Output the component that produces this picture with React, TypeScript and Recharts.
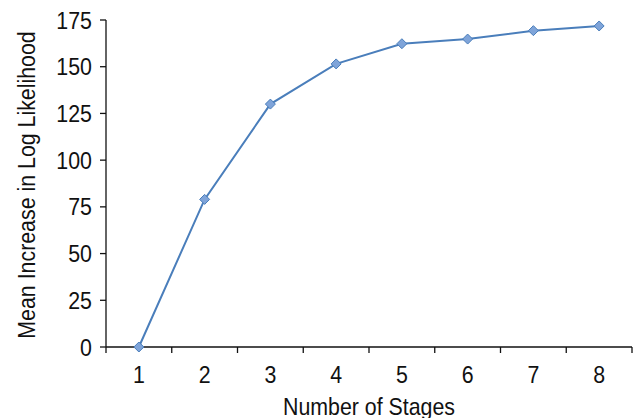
import { LineChart, Line, XAxis, YAxis, Label } from 'recharts'

const stages = [1, 2, 3, 4, 5, 6, 7, 8]
const meanIncrease = [0, 79, 130, 151.5, 162.3, 164.8, 169.3, 171.8]
const yTicks = [0, 25, 50, 75, 100, 125, 150, 175]
// category boundaries, where the small tick marks sit
const xEdges = [0.5, 1, 1.5, 2, 2.5, 3, 3.5, 4, 4.5, 5, 5.5, 6, 6.5, 7, 7.5, 8, 8.5]

const data = stages.map((s, i) => ({ stage: s, value: meanIncrease[i] }))

// no condensed Helvetica here, so squeeze Liberation Sans a bit
const FONT = '"Liberation Sans", Arial, sans-serif'
const SQUEEZE = 0.89
const FS = 24

function NarrowText({ x, y, anchor = 'middle', rotate = 0, children }: any) {
  return (
    <text
      transform={`translate(${x},${y}) rotate(${rotate}) scale(${SQUEEZE},1)`}
      textAnchor={anchor}
      fontSize={FS}
      fontFamily={FONT}
      fill="#111"
    >
      {children}
    </text>
  )
}

function XTick(props: any) {
  const { x, y, payload } = props
  const v = payload.value as number
  if (Number.isInteger(v)) {
    return <NarrowText x={x} y={y + 30}>{v}</NarrowText>
  }
  return <line x1={x} x2={x} y1={y - 6} y2={y} stroke="#111" strokeWidth={1.3} />
}

function YTick(props: any) {
  const { x, y, payload } = props
  return (
    <NarrowText x={x} y={y + 8.5} anchor="end">
      {payload.value}
    </NarrowText>
  )
}

function Diamond(props: any) {
  const { cx, cy } = props
  const r = 5
  return (
    <path
      key={`d-${cx}`}
      d={`M${cx},${cy - r} L${cx + r},${cy} L${cx},${cy + r} L${cx - r},${cy} Z`}
      fill="#7fa4d9"
      stroke="#4a7ebb"
      strokeWidth={1}
    />
  )
}

export default function App() {
  return (
    <div style={{ position: 'absolute', left: 0, top: 0, background: '#fff' }}>
      <LineChart
        width={635}
        height={418}
        data={data}
        margin={{ top: 20, right: 3, left: 0, bottom: 0 }}
      >
        <XAxis
          dataKey="stage"
          type="number"
          domain={[0.5, 8.5]}
          ticks={xEdges}
          interval={0}
          tick={<XTick />}
          tickLine={false}
          tickSize={6}
          tickMargin={0}
          height={71}
          axisLine={{ stroke: '#111', strokeWidth: 1.3 }}
        >
          <Label
            content={(p: any) => {
              const vb = p.viewBox
              return (
                <NarrowText x={vb.x + vb.width / 2} y={vb.y + 68}>
                  Number of Stages
                </NarrowText>
              )
            }}
          />
        </XAxis>
        <YAxis
          domain={[0, 175]}
          ticks={yTicks}
          interval={0}
          width={106}
          tickSize={6}
          tickMargin={8}
          tick={<YTick />}
          tickLine={{ stroke: '#111', strokeWidth: 1.3 }}
          axisLine={{ stroke: '#111', strokeWidth: 1.3 }}
        >
          <Label
            content={(p: any) => {
              const vb = p.viewBox
              return (
                <NarrowText x={35} y={vb.y + vb.height / 2 + 1.5} rotate={-90}>
                  Mean Increase in Log Likelihood
                </NarrowText>
              )
            }}
          />
        </YAxis>
        <Line
          type="linear"
          dataKey="value"
          stroke="#4a7ebb"
          strokeWidth={2}
          dot={<Diamond />}
          activeDot={false}
          isAnimationActive={false}
        />
      </LineChart>
    </div>
  )
}
